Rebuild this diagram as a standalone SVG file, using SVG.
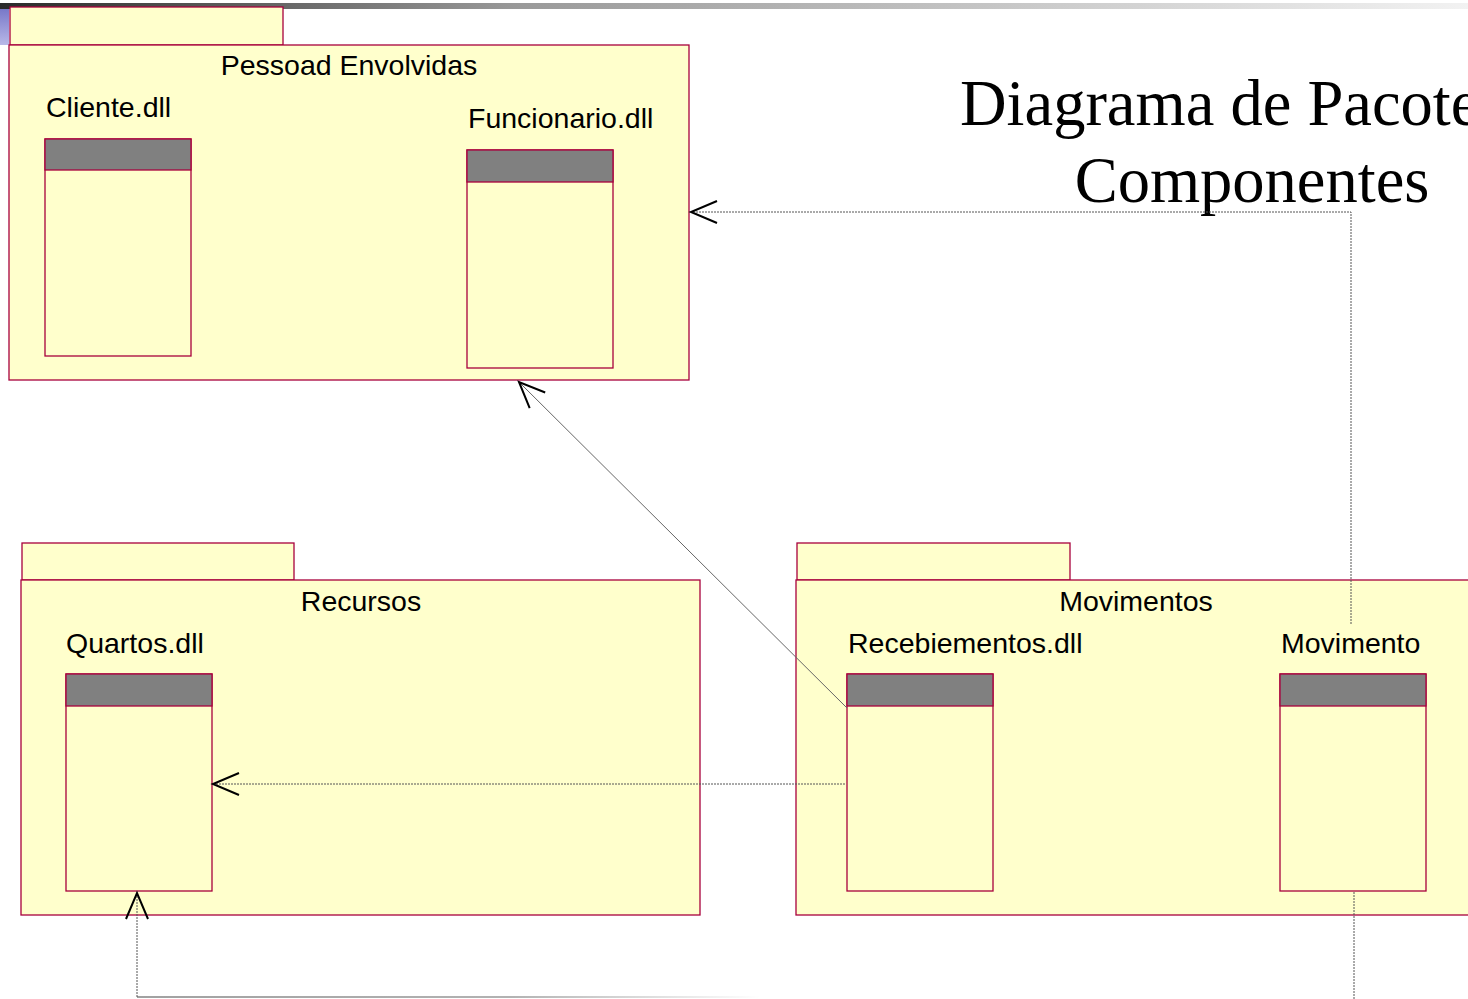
<svg xmlns="http://www.w3.org/2000/svg" width="1468" height="999" viewBox="0 0 1468 999">
<style>
.pkg{fill:#ffffcc;stroke:#a8003c;stroke-width:1.3}
.tab{fill:#ffffcc;stroke:#a8003c;stroke-width:1.3}
.comp{fill:#ffffcc;stroke:#a8003c;stroke-width:1.3}
.hdr{fill:#808080;stroke:#a8003c;stroke-width:1.3}
.t{font-family:"Liberation Sans",Arial,sans-serif;font-size:28.5px;fill:#000}
.title{font-family:"Liberation Serif","Times New Roman",serif;font-size:64.5px;fill:#000}
.dep{fill:none;stroke:#555;stroke-width:1;stroke-dasharray:2 1}
</style>
<defs>
<linearGradient id="bar" x1="0" y1="0" x2="1" y2="0">
<stop offset="0" stop-color="#2a2a2a"/>
<stop offset="0.35" stop-color="#999"/>
<stop offset="1" stop-color="#f2f2f2"/>
</linearGradient>
<linearGradient id="side" x1="0" y1="0" x2="0" y2="1">
<stop offset="0" stop-color="#7878c8"/>
<stop offset="1" stop-color="#b8b8e8"/>
</linearGradient>
<linearGradient id="fade" gradientUnits="userSpaceOnUse" x1="137" y1="0" x2="760" y2="0">
<stop offset="0" stop-color="#444"/>
<stop offset="0.6" stop-color="#666"/>
<stop offset="1" stop-color="#fff"/>
</linearGradient>
<marker id="arr" markerUnits="userSpaceOnUse" markerWidth="30" markerHeight="30" refX="27" refY="12" orient="auto" overflow="visible">
<path d="M1,1 L27,12 L1,23" fill="none" stroke="#000" stroke-width="2"/>
</marker>
</defs>
<rect width="1468" height="999" fill="#fff"/>
<rect x="0" y="3" width="1468" height="6" fill="url(#bar)"/>
<rect x="0" y="9" width="9" height="36" fill="url(#side)"/>

<text class="title" x="960" y="125">Diagrama de Pacote</text>
<text class="title" x="1252" y="202" text-anchor="middle">Componentes</text>

<g id="pkg-pessoas">
<rect class="tab" x="10" y="7" width="273" height="38"/>
<rect class="pkg" x="9" y="45" width="680" height="335"/>
<text class="t" x="349" y="75" text-anchor="middle">Pessoad Envolvidas</text>
</g>
<g id="cliente">
<text class="t" x="46" y="117">Cliente.dll</text>
<rect class="comp" x="45" y="139" width="146" height="217"/>
<rect class="hdr" x="45" y="139" width="146" height="31"/>
</g>
<g id="funcionario">
<text class="t" x="468" y="128">Funcionario.dll</text>
<rect class="comp" x="467" y="150" width="146" height="218"/>
<rect class="hdr" x="467" y="150" width="146" height="32"/>
</g>

<g id="pkg-recursos">
<rect class="tab" x="22" y="543" width="272" height="37"/>
<rect class="pkg" x="21" y="580" width="679" height="335"/>
<text class="t" x="361" y="611" text-anchor="middle">Recursos</text>
</g>
<g id="quartos">
<text class="t" x="66" y="653">Quartos.dll</text>
<rect class="comp" x="66" y="674" width="146" height="217"/>
<rect class="hdr" x="66" y="674" width="146" height="32"/>
</g>

<g id="pkg-movimentos">
<rect class="tab" x="797" y="543" width="273" height="37"/>
<rect class="pkg" x="796" y="580" width="690" height="335"/>
<text class="t" x="1136" y="611" text-anchor="middle">Movimentos</text>
</g>
<g id="recebiementos">
<text class="t" x="848" y="653">Recebiementos.dll</text>
<rect class="comp" x="847" y="674" width="146" height="217"/>
<rect class="hdr" x="847" y="674" width="146" height="32"/>
</g>
<g id="movimento">
<text class="t" x="1281" y="653">Movimento</text>
<rect class="comp" x="1280" y="674" width="146" height="217"/>
<rect class="hdr" x="1280" y="674" width="146" height="32"/>
</g>

<g id="connectors">
<path class="dep" d="M1351,624 L1351,212 L691,212" marker-end="url(#arr)"/>
<path d="M847,708 L519,382" fill="none" stroke="#666" stroke-width="1" marker-end="url(#arr)"/>
<path class="dep" d="M845,784 L213,784" marker-end="url(#arr)"/>
<path class="dep" d="M1354,892 L1354,999"/>
<path d="M137,997 L760,997" fill="none" stroke="url(#fade)" stroke-width="1.2"/>
<path class="dep" d="M137,997 L137,893" marker-end="url(#arr)"/>
</g>
</svg>
